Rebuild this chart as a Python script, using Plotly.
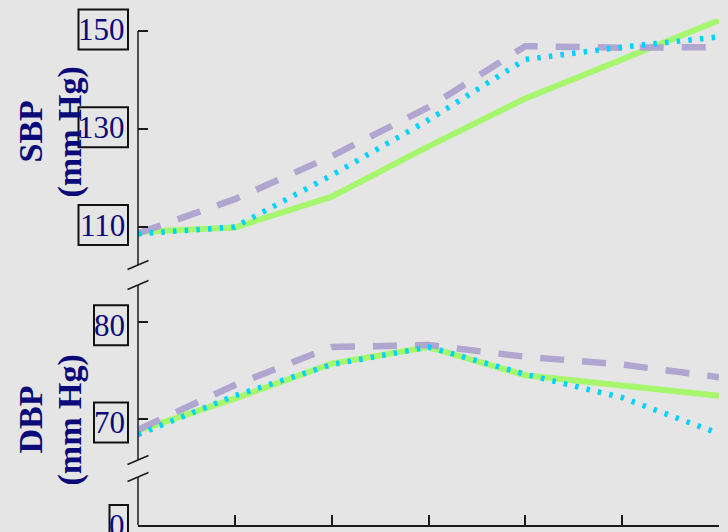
import plotly.graph_objects as go

# ---- data ----
x_pos = [0, 1, 2, 3, 4, 5, 6]
x_ticks = [0, 1, 2, 3, 4, 5, 6]

sbp_green = [108.9, 109.8, 116.1, 126.4, 136.2, 144.3, 152.2]
sbp_dash = [108.6, 115.6, 124.4, 134.4, 146.9, 146.6, 146.7]
sbp_dot = [108.5, 109.9, 120.5, 131.8, 144.2, 146.7, 148.8]

dbp_green = [68.8, 72.1, 75.7, 77.4, 74.5, 73.5, 72.4]
dbp_dash = [68.9, 73.5, 77.4, 77.6, 76.4, 75.6, 74.3]
dbp_dot = [68.4, 72.4, 75.6, 77.4, 74.6, 72.2, 68.5]

sbp_ticks = [110, 130, 150]
dbp_ticks = [70, 80]
low_ticks = [0]

series_names = ["Group 1", "Group 2", "Group 3"]

# ---- styles ----
BG = "#e5e5e5"
GREEN = "#a6f76e"
LAV = "#b0a6d0"
CYAN = "#00d2ff"
NAVY = "#0a0a78"
AX = "#1a1a1a"
SERIF = "Liberation Serif, Times New Roman, serif"

W, H = 728, 532
ML, MR, MT, MB = 138, 9, 0, 7
PW = W - ML - MR
PH = H - MT - MB

sbp_range = [102.12, 152.46]
dbp_range = [65.79, 83.77]
low_range = [0, 10]
sbp_dom = [0.4952, 0.9638]
dbp_dom = [0.1238, 0.4571]
low_dom = [0.0, 0.0914]

fig = go.Figure()

styles = [
    dict(color=GREEN, width=6, dash="solid"),
    dict(color=LAV, width=6.5, dash="24px,18px"),
    dict(color=CYAN, width=5.5, dash="3.5px,8.2px"),
]

for ys, yax in [((sbp_green, sbp_dash, sbp_dot), "y"), ((dbp_green, dbp_dash, dbp_dot), "y2")]:
    for vals, st, nm in zip(ys, styles, series_names):
        fig.add_trace(go.Scatter(x=x_pos, y=vals, mode="lines", line=st, name=nm,
                                 yaxis=yax, xaxis="x", showlegend=False))

common_y = dict(showgrid=False, zeroline=False, showline=False, showticklabels=False,
                ticks="inside", ticklen=10, tickwidth=1.5, tickcolor=AX, anchor="x")

fig.update_layout(
    width=W, height=H,
    margin=dict(l=ML, r=MR, t=MT, b=MB),
    paper_bgcolor=BG, plot_bgcolor=BG,
    xaxis=dict(range=[0, 6], showgrid=False, zeroline=False, showline=True, linecolor=AX,
               linewidth=1.5, ticks="inside", ticklen=10, tickwidth=1.5, tickcolor=AX,
               tickvals=x_ticks, showticklabels=False, anchor="y3"),
    yaxis=dict(domain=sbp_dom, range=sbp_range, tickvals=sbp_ticks, **common_y),
    yaxis2=dict(domain=dbp_dom, range=dbp_range, tickvals=dbp_ticks, **common_y),
    yaxis3=dict(domain=low_dom, range=low_range, tickvals=low_ticks, **common_y),
)


def to_paper(v, dom, rng):
    return dom[0] + (v - rng[0]) / (rng[1] - rng[0]) * (dom[1] - dom[0])


shapes = []
# y axis lines
for dom, rng, top in [(sbp_dom, sbp_range, 150), (dbp_dom, dbp_range, dbp_range[1]),
                      (low_dom, low_range, low_range[1])]:
    shapes.append(dict(type="line", xref="paper", yref="paper", x0=0, x1=0,
                       y0=dom[0], y1=to_paper(top, dom, rng),
                       line=dict(color=AX, width=1.5)))
# break marks
dx = 10.5 / PW
dy = 4.5 / PH
for yc in [sbp_dom[0], dbp_dom[1], dbp_dom[0], low_dom[1]]:
    shapes.append(dict(type="line", xref="paper", yref="paper",
                       x0=-dx, x1=dx, y0=yc - dy, y1=yc + dy,
                       line=dict(color=AX, width=1.5)))

ann = []
box_h = 40.0 / PH
for dom, rng, ticks, yref, shift in [(sbp_dom, sbp_range, sbp_ticks, "y", 1.5),
                                     (dbp_dom, dbp_range, dbp_ticks, "y2", -3.5),
                                     (low_dom, low_range, low_ticks, "y3", 0)]:
    for t in ticks:
        s = str(t)
        wpx = 3.0 + 15.5 * len(s)
        yc = to_paper(t, dom, rng) + shift / PH
        shapes.append(dict(type="rect", xref="paper", yref="paper",
                           x0=-(10 + wpx) / PW, x1=-10 / PW,
                           y0=yc - box_h / 2, y1=yc + box_h / 2,
                           line=dict(color="#111111", width=2), fillcolor="rgba(0,0,0,0)"))
        ann.append(dict(text=s, xref="paper", yref=yref, x=-11.5 / PW, y=t, xanchor="right",
                        yanchor="middle", yshift=shift, showarrow=False,
                        font=dict(family=SERIF, size=31, color=NAVY)))

fig.update_layout(shapes=shapes)


def px_to_paper(xp, yp):
    return (xp - ML) / PW, (PH - yp) / PH


for txt, xp, yp in [("SBP", 29.5, 132), ("(mm Hg)", 69.5, 132),
                    ("DBP", 29.5, 420), ("(mm Hg)", 69.5, 420)]:
    xx, yy = px_to_paper(xp, yp)
    ann.append(dict(text="<b>%s</b>" % txt, xref="paper", yref="paper", x=xx, y=yy,
                    xanchor="center", yanchor="middle", textangle=-90, showarrow=False,
                    font=dict(family=SERIF, size=34, color=NAVY)))
fig.update_layout(annotations=ann)

fig.write_html("out.html", config={"displayModeBar": False})
